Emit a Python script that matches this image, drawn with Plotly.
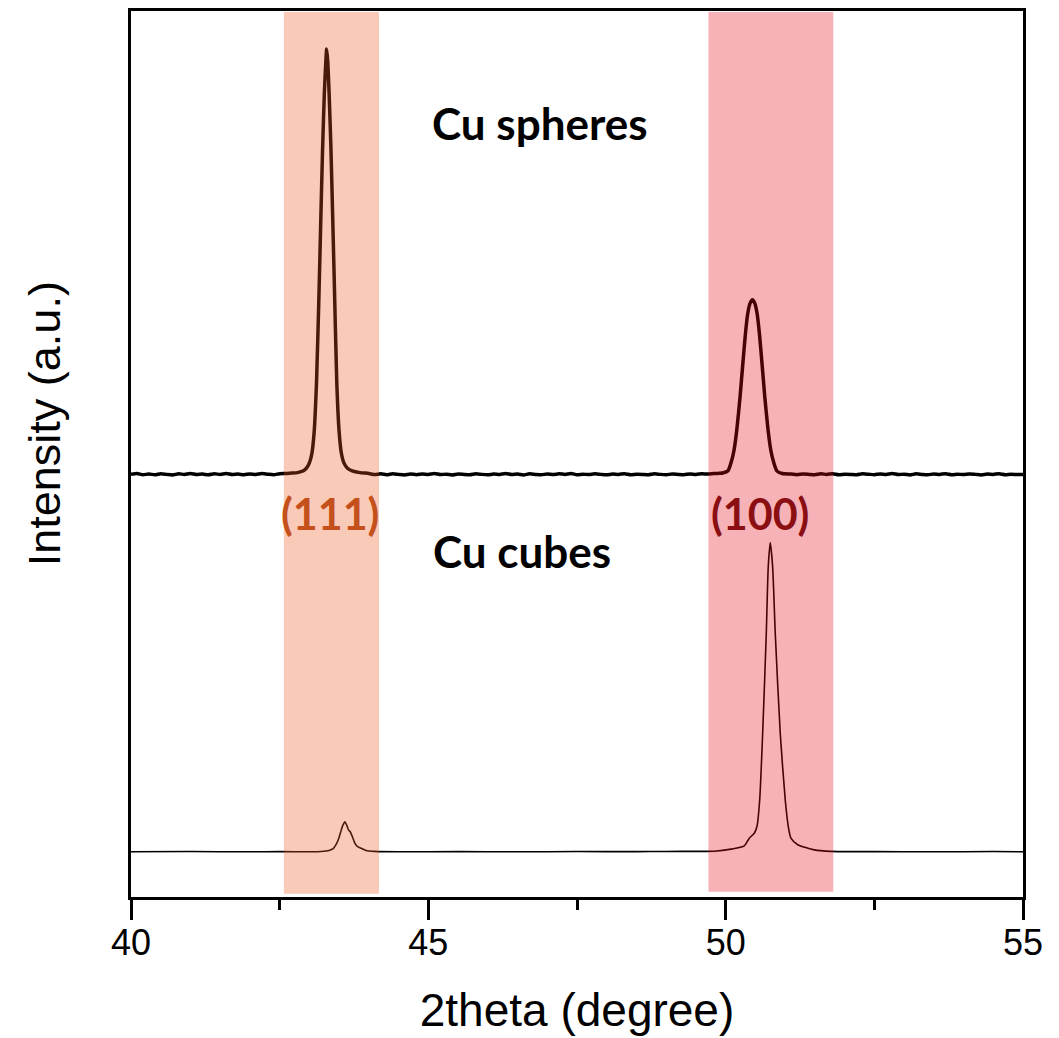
import plotly.graph_objects as go

# 2theta axis (degree) and intensities (a.u., offset stacked) for the two samples
spheres_2theta = [
    40.0, 40.1, 40.2, 40.3, 40.4, 40.5, 40.6, 40.7, 40.8, 40.9, 41.0, 41.1, 41.2, 41.3,
    41.4, 41.5, 41.6, 41.7, 41.8, 41.9, 42.0, 42.1, 42.2, 42.3, 42.4, 42.5, 42.6, 42.7,
    42.8, 42.9, 42.95, 43.0, 43.04, 43.08, 43.12, 43.16, 43.19, 43.22, 43.25, 43.27, 43.29,
    43.31, 43.33, 43.36, 43.39, 43.42, 43.46, 43.5, 43.54, 43.58, 43.64, 43.72, 43.85, 44.0,
    44.1, 44.2, 44.3, 44.4, 44.5, 44.6, 44.7, 44.8, 44.9, 45.0, 45.1, 45.2, 45.3, 45.4,
    45.5, 45.6, 45.7, 45.8, 45.9, 46.0, 46.1, 46.2, 46.3, 46.4, 46.5, 46.6, 46.7, 46.8,
    46.9, 47.0, 47.1, 47.2, 47.3, 47.4, 47.5, 47.6, 47.7, 47.8, 47.9, 48.0, 48.1, 48.2,
    48.3, 48.4, 48.5, 48.6, 48.7, 48.8, 48.9, 49.0, 49.1, 49.2, 49.3, 49.4, 49.5, 49.6,
    49.7, 49.8, 49.9, 49.95, 50.04, 50.09, 50.14, 50.19, 50.24, 50.29, 50.33, 50.37, 50.41,
    50.45, 50.49, 50.53, 50.57, 50.61, 50.66, 50.71, 50.76, 50.81, 50.86, 50.95, 51.1,
    51.2, 51.3, 51.4, 51.5, 51.6, 51.7, 51.8, 51.9, 52.0, 52.1, 52.2, 52.3, 52.4, 52.5,
    52.6, 52.7, 52.8, 52.9, 53.0, 53.1, 53.2, 53.3, 53.4, 53.5, 53.6, 53.7, 53.8, 53.9,
    54.0, 54.1, 54.2, 54.3, 54.4, 54.5, 54.6, 54.7, 54.8, 54.9, 55.0,
]
spheres_intensity = [
    477, 478, 476.5, 477.5, 476.5, 477.8, 477, 476.4, 477.6, 477, 478, 476.8, 477.4, 476.5,
    477.6, 477, 478, 476.8, 477.3, 476.6, 477.5, 477, 478, 477.2, 476.6, 477.8, 478, 478.5,
    479, 481, 484, 490, 500, 525, 582, 677, 760, 840, 905, 935, 957,
    942, 910, 850, 772, 690, 582, 525, 500, 490, 484, 481, 479, 478,
    476.8, 477.6, 476.6, 477.8, 477, 476.4, 477.5, 476.6, 477.4, 477, 478, 476.8, 477.2, 476.4,
    477.5, 477, 476.6, 477.8, 477, 476.5, 477.4, 477, 478, 476.8, 477.3, 476.4, 477.6, 477,
    476.6, 477.4, 476.8, 477.6, 477, 478, 476.6, 477.2, 476.8, 477.6, 477, 476.5, 477.4, 477,
    477.8, 476.6, 477.2, 477, 476.5, 477.7, 477, 476.6, 477.4, 477, 476.6, 477.5, 477, 477.6,
    477.4, 478, 478.2, 478.5, 481, 490, 504, 529, 563, 603, 634, 658, 670,
    674, 670, 658, 634, 603, 563, 529, 504, 490, 481, 478, 477.4,
    476.6, 477.4, 477, 476.5, 477.6, 477, 477.8, 476.6, 477.2, 477, 476.5, 477.6, 477.2, 476.6,
    477.5, 477, 478, 476.8, 477.2, 476.4, 477.6, 477, 476.6, 477.4, 477, 477.8, 476.6, 477.2,
    476.8, 477.5, 477, 476.4, 477.3, 477, 477.8, 476.6, 477.2, 476.8, 477,
]

cubes_2theta = [
    40.0, 41.0, 42.0, 42.5, 43.0, 43.2, 43.33, 43.4, 43.447, 43.49, 43.52, 43.56, 43.598,
    43.63, 43.66, 43.687, 43.72, 43.76, 43.8, 43.87, 43.95, 44.1, 44.5, 45.5, 46.5, 47.5,
    48.5, 49.0, 49.5, 49.81, 50.09, 50.313, 50.397, 50.481, 50.526, 50.572, 50.622, 50.683,
    50.716, 50.75, 50.79, 50.834, 50.918, 51.002, 51.053, 51.098, 51.211, 51.49, 51.77,
    52.5, 53.5, 54.5, 55.0,
]
cubes_intensity = [
    51, 51.3, 51, 51.2, 51, 51.3, 52.5, 54.5, 59, 65.5, 72, 80.5, 85,
    80.5, 75.5, 73.7, 68.5, 61.5, 57.5, 55, 52.5, 51.5, 51, 51.2, 51, 51.3,
    51.2, 51.4, 51.5, 51.6, 54, 57.7, 66.4, 72, 79.5, 109.5, 184.5, 297.5,
    372.5, 400, 372.5, 297.5, 184.5, 109.5, 79.5, 66.4, 59, 53.2, 51.5,
    51.2, 51, 51.3, 51,
]

# highlighted reflection windows (2theta start, end) and their labels
band_ranges = [(42.57, 44.17), (49.71, 51.81)]
band_colors = ["rgb(239,84,26)", "rgb(227,8,24)"]
band_bottoms = [3.7, 6.0]
peak_labels = ["(111)", "(100)"]
peak_label_x = [43.34, 50.58]
peak_label_colors = ["#C4501C", "#8A0E12"]

sample_names = ["Cu spheres", "Cu cubes"]
sample_label_x = [46.88, 46.58]
sample_label_y = [874, 390]

fig = go.Figure()
fig.add_trace(go.Scatter(
    x=spheres_2theta, y=spheres_intensity, mode="lines",
    line=dict(color="black", width=3.5, shape="spline", smoothing=0.5),
    name=sample_names[0], hoverinfo="skip",
))
fig.add_trace(go.Scatter(
    x=cubes_2theta, y=cubes_intensity, mode="lines",
    line=dict(color="black", width=1.6, shape="spline", smoothing=0.6),
    name=sample_names[1], hoverinfo="skip",
))

# translucent colour bands laid over the patterns
for (x0, x1), col, yb in zip(band_ranges, band_colors, band_bottoms):
    fig.add_shape(type="rect", xref="x", yref="y", x0=x0, x1=x1, y0=yb, y1=999,
                  fillcolor=col, opacity=0.31, line=dict(width=0), layer="above")

label_font = "Lato, Open Sans, sans-serif"
for txt, xv, col in zip(peak_labels, peak_label_x, peak_label_colors):
    fig.add_annotation(x=xv, y=433, xref="x", yref="y", text=f"<b>{txt}</b>",
                       showarrow=False, font=dict(family=label_font, size=43, color=col),
                       xanchor="center", yanchor="middle")
for txt, xv, yv in zip(sample_names, sample_label_x, sample_label_y):
    fig.add_annotation(x=xv, y=yv, xref="x", yref="y", text=f"<b>{txt}</b>",
                       showarrow=False, font=dict(family=label_font, size=44, color="black"),
                       xanchor="center", yanchor="middle")

# rotated y-axis caption
fig.add_annotation(x=-0.096, y=0.534, xref="paper", yref="paper",
                   text="Intensity (a.u.)", textangle=-90, showarrow=False,
                   font=dict(family="Liberation Sans, Arial", size=45, color="black"),
                   xanchor="center", yanchor="middle")

fig.update_layout(
    width=1059, height=1038,
    margin=dict(l=131, r=36, t=8, b=141),
    plot_bgcolor="white", paper_bgcolor="white",
    showlegend=False,
    font=dict(family="Liberation Sans, Arial", color="black"),
)
fig.update_xaxes(
    range=[40, 55], tick0=40, dtick=5,
    showline=True, linecolor="black", linewidth=3, mirror=True,
    ticks="outside", ticklen=20, tickwidth=3, tickcolor="black",
    minor=dict(dtick=2.5, ticks="outside", ticklen=10, tickwidth=3, tickcolor="black"),
    tickfont=dict(family="Liberation Sans, Arial", size=36, color="black"),
    ticklabelstandoff=-8,
    showgrid=False, zeroline=False,
    title=dict(text="2theta (degree)", standoff=32,
               font=dict(family="Liberation Sans, Arial", size=46, color="black")),
)
fig.update_yaxes(
    range=[0, 1000], showticklabels=False, ticks="",
    showline=True, linecolor="black", linewidth=3, mirror=True,
    showgrid=False, zeroline=False,
)

fig.write_html("out.html")
